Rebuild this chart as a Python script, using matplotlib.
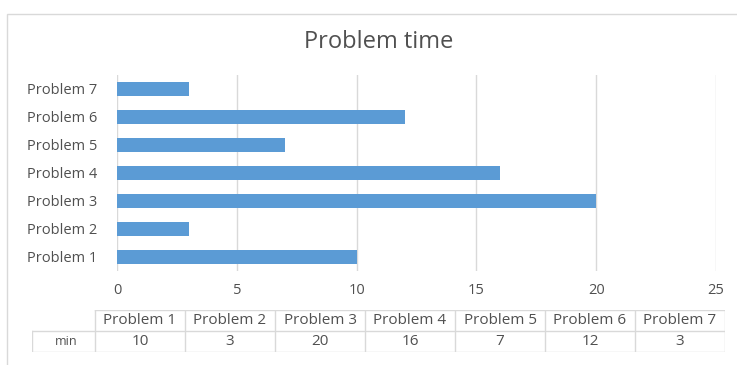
import matplotlib.pyplot as plt
from matplotlib.patches import Rectangle

# chart data
problems = ["Problem 1", "Problem 2", "Problem 3", "Problem 4",
            "Problem 5", "Problem 6", "Problem 7"]
minutes = [10, 3, 20, 16, 7, 12, 3]
series_name = "min"

BAR = "#5b9bd5"
TEXT = "#505050"
GRID = "#d9d9d9"
W, H = 737, 365

plt.rcParams['font.family'] = ['Open Sans', 'DejaVu Sans']

fig = plt.figure(figsize=(W / 100, H / 100), dpi=100)


def fx(px):
    return px / W


def fy(py):
    return 1 - py / H


# outer chart border
fig.patches.append(Rectangle((fx(7), fy(372)), fx(740) - fx(7), fy(14) - fy(372),
                             transform=fig.transFigure, fill=False,
                             edgecolor=GRID, linewidth=1))

fig.text(fx(379), fy(42), "Problem time", ha="center", va="center",
         fontsize=17, color=TEXT)

# bar chart
ax = fig.add_axes([fx(117), fy(271), fx(716) - fx(117), fy(75) - fy(271)])
ypos = range(len(problems))
ax.barh(ypos, minutes, height=0.5, color=BAR, zorder=3)
ax.set_xlim(0, 25)
ax.set_ylim(-0.5, len(problems) - 0.5)
ax.set_xticks(range(0, 26, 5))
ax.set_yticks(list(ypos))
ax.set_yticklabels(problems)
ax.grid(axis="x", color=GRID, linewidth=1, zorder=0)
for s in ax.spines.values():
    s.set_visible(False)
ax.tick_params(length=0, labelsize=10.5, colors=TEXT)
ax.tick_params(axis="x", pad=9)
ax.tick_params(axis="y", pad=14)

# data table under the axis
tab = fig.add_axes([fx(32), fy(352), fx(725) - fx(32), fy(310) - fy(352)])
tab.set_xlim(32, 725)
tab.set_ylim(352, 310)
tab.axis("off")
col_w = 90
x0 = 95
row_top, row_mid, row_bot = 310, 331, 352
line_kw = dict(color=GRID, linewidth=1)
tab.plot([x0, x0 + col_w * len(problems)], [row_top, row_top], **line_kw)
tab.plot([32, x0 + col_w * len(problems)], [row_mid, row_mid], **line_kw)
tab.plot([32, x0 + col_w * len(problems)], [row_bot, row_bot], **line_kw)
tab.plot([32, 32], [row_mid, row_bot], **line_kw)
for i in range(len(problems) + 1):
    tab.plot([x0 + i * col_w] * 2, [row_top, row_bot], **line_kw)
for i, (name, val) in enumerate(zip(problems, minutes)):
    cx = x0 + (i + 0.5) * col_w
    tab.text(cx, (row_top + row_mid) / 2, name, ha="center", va="center",
             fontsize=11, color=TEXT)
    tab.text(cx, (row_mid + row_bot) / 2, str(val), ha="center", va="center",
             fontsize=11, color=TEXT)
tab.text(66, (row_mid + row_bot) / 2, series_name, ha="center", va="center",
         fontsize=9, color=TEXT)

fig.savefig("out.png", dpi=100)
